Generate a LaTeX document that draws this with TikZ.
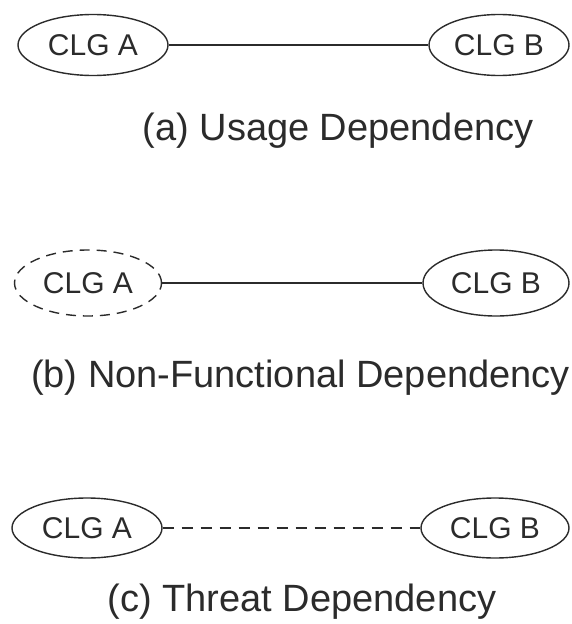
\documentclass[tikz,border=0pt]{standalone}
\usepackage{fontspec}
\setmainfont{Liberation Sans}
\usetikzlibrary{shapes.geometric}
\definecolor{ink}{HTML}{2B2B2B}
\tikzset{
  clg/.style={ellipse, draw=ink, line width=1.4pt, inner sep=0pt, text=ink,
    font=\fontsize{30}{32}\selectfont},
  link/.style={draw=ink, line width=1.4pt},
  captext/.style={anchor=base, inner sep=0pt, text=ink, font=\fontsize{38}{40}\selectfont}
}
\begin{document}
\begin{tikzpicture}[x=1pt,y=-1pt]
\useasboundingbox (0,0) rectangle (571,624);
% (a)
\node[clg, minimum width=150pt, minimum height=61pt] (a1) at (93,45) {CLG A};
\node[clg, minimum width=140pt, minimum height=61pt] (a2) at (499,45) {CLG B};
\draw[link] (a1) -- (a2);
\node[captext] (ca) at (338,140) {(a) Usage Dependency};
% (b)
\node[clg, dash pattern=on 10pt off 7pt, minimum width=147pt, minimum height=66pt] (b1) at (88,283) {CLG A};
\node[clg, minimum width=146pt, minimum height=66pt] (b2) at (496,283) {CLG B};
\draw[link] (b1) -- (b2);
\node[captext, anchor=base west] (cb) at (31,387) {(b) Non-Functional Dependency};
% (c)
\node[clg, minimum width=150pt, minimum height=60pt] (c1) at (87,528) {CLG A};
\node[clg, minimum width=148pt, minimum height=60pt] (c2) at (495,528) {CLG B};
\draw[link, dash pattern=on 11pt off 8pt] (c1) -- (c2);
\node[captext] (cc) at (302,611) {(c) Threat Dependency};
\end{tikzpicture}
\end{document}
